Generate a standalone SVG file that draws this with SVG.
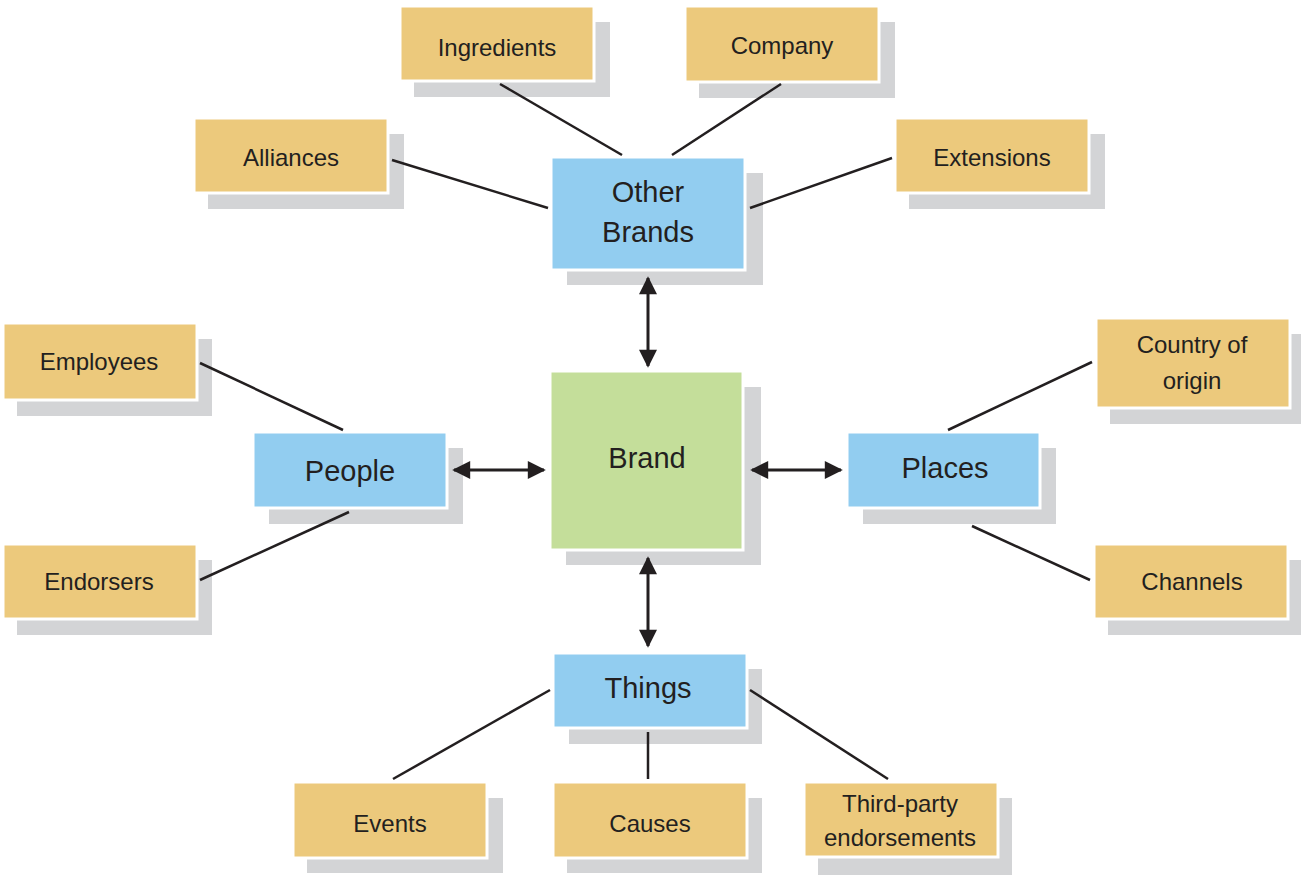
<svg xmlns="http://www.w3.org/2000/svg" width="1301" height="878" viewBox="0 0 1301 878">
<defs>
<style>
.sh{fill:#D3D4D6}
.tan{fill:#ECC97C;stroke:#fff;stroke-width:3}
.blue{fill:#92CDF0;stroke:#fff;stroke-width:3}
.green{fill:#C4DE9A;stroke:#fff;stroke-width:3}
.t{font-family:"Liberation Sans",Arial,sans-serif;font-size:24px;fill:#231F20;text-anchor:middle}
.b{font-family:"Liberation Sans",Arial,sans-serif;font-size:29px;fill:#231F20;text-anchor:middle}
.ln{stroke:#231F20;stroke-width:2.5;fill:none}
.ar{stroke:#231F20;stroke-width:3;fill:none;marker-start:url(#ah);marker-end:url(#ah)}
</style>
<marker id="ah" viewBox="0 0 10 10" refX="9" refY="5" markerWidth="7" markerHeight="6" orient="auto-start-reverse" markerUnits="strokeWidth">
<path d="M0,0 L10,5 L0,10 Z" fill="#231F20"/>
</marker>
</defs>
<rect width="1301" height="878" fill="#fff"/>
<g id="ingredients"><rect class="sh" x="414" y="22" width="196" height="75"/><rect class="tan" x="400" y="6" width="194" height="75"/><text class="t" x="497" y="56">Ingredients</text></g>
<g id="company"><rect class="sh" x="699" y="22" width="196" height="76"/><rect class="tan" x="685" y="6" width="194" height="76"/><text class="t" x="782" y="54">Company</text></g>
<g id="alliances"><rect class="sh" x="208" y="134" width="196" height="75"/><rect class="tan" x="194" y="118" width="194" height="75"/><text class="t" x="291" y="166">Alliances</text></g>
<g id="extensions"><rect class="sh" x="909" y="134" width="196" height="75"/><rect class="tan" x="895" y="118" width="194" height="75"/><text class="t" x="992" y="166">Extensions</text></g>
<g id="other-brands"><rect class="sh" x="567" y="173" width="196" height="112"/><rect class="blue" x="551" y="157" width="194" height="113"/><text class="b" x="648" y="202">Other</text><text class="b" x="648" y="242">Brands</text></g>
<g id="employees"><rect class="sh" x="17" y="339" width="195" height="77"/><rect class="tan" x="3" y="323" width="194" height="77"/><text class="t" x="99" y="370">Employees</text></g>
<g id="people"><rect class="sh" x="269" y="448" width="194" height="76"/><rect class="blue" x="253" y="432" width="194" height="76"/><text class="b" x="350" y="481">People</text></g>
<g id="brand"><rect class="sh" x="566" y="387" width="195" height="178"/><rect class="green" x="550" y="371" width="193" height="179"/><text class="b" x="647" y="468">Brand</text></g>
<g id="places"><rect class="sh" x="863" y="448" width="193" height="76"/><rect class="blue" x="847" y="432" width="193" height="76"/><text class="b" x="945" y="478">Places</text></g>
<g id="country-of-origin"><rect class="sh" x="1110" y="334" width="191" height="90"/><rect class="tan" x="1096" y="318" width="194" height="90"/><text class="t" x="1192" y="353">Country of</text><text class="t" x="1192" y="389">origin</text></g>
<g id="endorsers"><rect class="sh" x="17" y="560" width="195" height="75"/><rect class="tan" x="3" y="544" width="194" height="75"/><text class="t" x="99" y="590">Endorsers</text></g>
<g id="channels"><rect class="sh" x="1108" y="560" width="193" height="75"/><rect class="tan" x="1094" y="544" width="194" height="75"/><text class="t" x="1192" y="590">Channels</text></g>
<g id="things"><rect class="sh" x="569" y="669" width="193" height="75"/><rect class="blue" x="553" y="653" width="194" height="75"/><text class="b" x="648" y="698">Things</text></g>
<g id="events"><rect class="sh" x="307" y="798" width="196" height="75"/><rect class="tan" x="293" y="782" width="194" height="76"/><text class="t" x="390" y="832">Events</text></g>
<g id="causes"><rect class="sh" x="567" y="798" width="195" height="75"/><rect class="tan" x="553" y="782" width="194" height="76"/><text class="t" x="650" y="832">Causes</text></g>
<g id="third-party-endorsements"><rect class="sh" x="818" y="798" width="194" height="77"/><rect class="tan" x="804" y="782" width="194" height="75"/><text class="t" x="900" y="812">Third-party</text><text class="t" x="900" y="846">endorsements</text></g>
<g id="connectors">
<line class="ln" x1="500" y1="84" x2="622" y2="155"/>
<line class="ln" x1="781" y1="84" x2="672" y2="155"/>
<line class="ln" x1="392" y1="160" x2="548" y2="208"/>
<line class="ln" x1="892" y1="158" x2="750" y2="208"/>
<line class="ln" x1="200" y1="363" x2="343" y2="430"/>
<line class="ln" x1="200" y1="580" x2="349" y2="512"/>
<line class="ln" x1="1092" y1="362" x2="948" y2="430"/>
<line class="ln" x1="1090" y1="580" x2="972" y2="526"/>
<line class="ln" x1="393" y1="779" x2="550" y2="690"/>
<line class="ln" x1="648" y1="732" x2="648" y2="779"/>
<line class="ln" x1="888" y1="779" x2="750" y2="690"/>
<line class="ar" x1="648" y1="278" x2="648" y2="366"/>
<line class="ar" x1="648" y1="558" x2="648" y2="646"/>
<line class="ar" x1="454" y1="470" x2="544" y2="470"/>
<line class="ar" x1="752" y1="470" x2="841" y2="470"/>
</g>
</svg>
